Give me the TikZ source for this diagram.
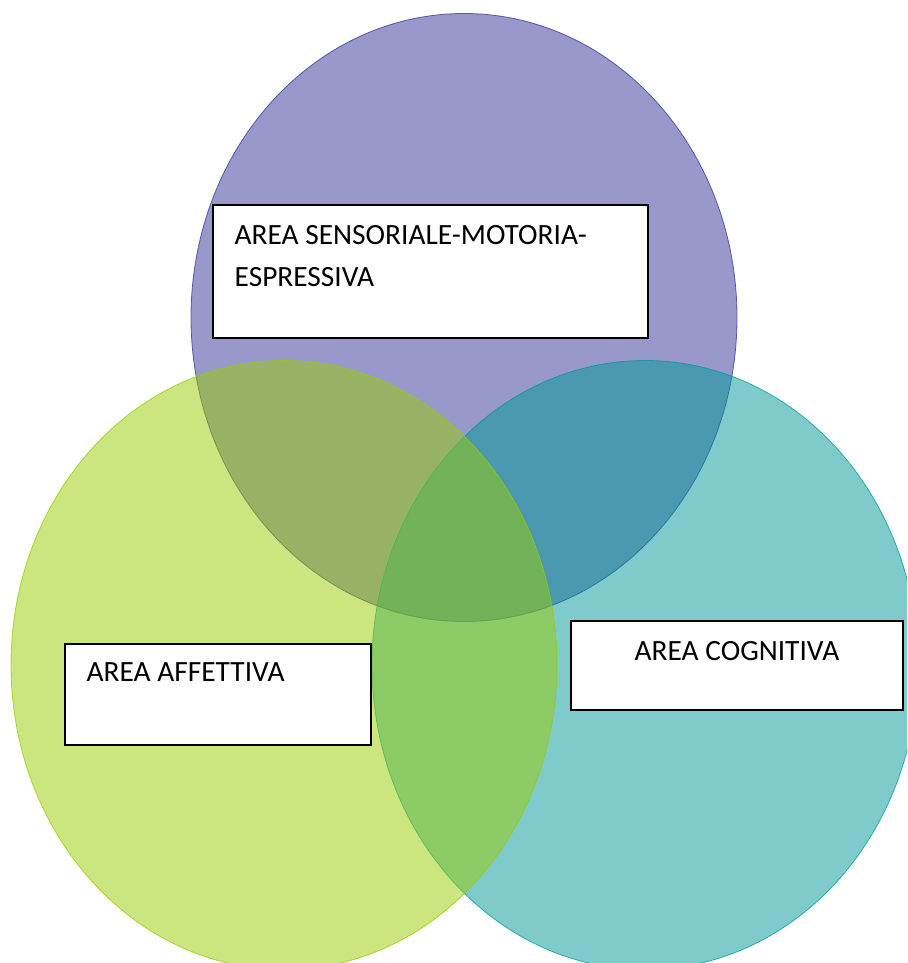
\documentclass[tikz,border=0pt]{standalone}
\usepackage{fontspec}
\setmainfont{Carlito}
\definecolor{vennpurple}{RGB}{51,51,153}
\definecolor{venngreen}{RGB}{153,204,0}
\definecolor{vennteal}{RGB}{0,153,153}
\begin{document}
\begin{tikzpicture}[x=1pt,y=-1pt,
  venn/.style={line width=0.8pt, fill opacity=0.5, draw opacity=0.75},
  box/.style={draw=black, fill=white, line width=1.3pt, rectangle, inner sep=0pt, outer sep=0pt, anchor=north west},
  lbl/.style={anchor=base west, inner sep=0pt, font=\fontsize{29.4}{35}\selectfont}]
\useasboundingbox (0,0) rectangle (907,963);
\clip (0,0) rectangle (907,963);
\fill[white] (0,0) rectangle (907,963);
% circles (purple below, teal, then green on top)
\path[venn, fill=vennpurple, draw=vennpurple] (464,317.5) ellipse [x radius=273, y radius=304];
\path[venn, fill=vennteal, draw=vennteal] (645,665) ellipse [x radius=273, y radius=304.5];
\path[venn, fill=venngreen, draw=venngreen] (284,665) ellipse [x radius=273, y radius=304.5];
% boxes
\node[box, minimum width=435pt, minimum height=133pt] (bsens) at (213,205) {};
\node[box, minimum width=306pt, minimum height=101pt] (baff) at (65,644) {};
\node[box, minimum width=332pt, minimum height=89pt] (bcog) at (571,621) {};
% labels
\node[lbl] (tsens1) at (234.5,244.7) {AREA SENSORIALE-MOTORIA-};
\node[lbl] (tsens2) at (234.5,286) {ESPRESSIVA};
\node[lbl] (taff) at (86.5,681.7) {AREA AFFETTIVA};
\node[lbl] (tcog) at (634.5,660.7) {AREA COGNITIVA};
\end{tikzpicture}
\end{document}
